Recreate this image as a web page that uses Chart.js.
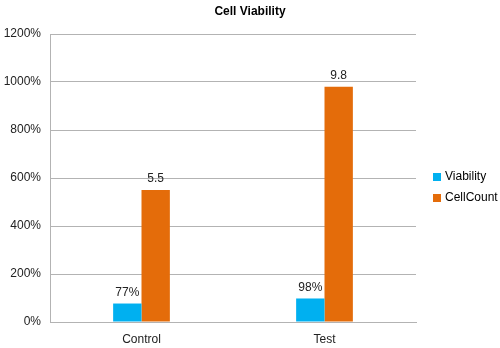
<!DOCTYPE html>
<html>
<head>
<meta charset="utf-8">
<script src="https://cdn.jsdelivr.net/npm/chart.js@4"></script>
<style>
  html, body { margin: 0; padding: 0; background: #fff; }
  #wrap { width: 500px; height: 348px; }
</style>
</head>
<body>
<div id="wrap"><canvas id="cellchart" width="500" height="348"></canvas></div>
<script>
const groups = ['Control', 'Test']
const viability = [77, 98]        // percent
const cellCount = [5.5, 9.8]      // plotted on the % axis as x100
const yTicks = [0, 200, 400, 600, 800, 1000, 1200]
const chartTitle = 'Cell Viability'

const FONT = '"Liberation Sans", Arial, sans-serif'

// numbers above each bar
const valueLabels = {
  id: 'valueLabels',
  afterDatasetsDraw(chart) {
    const ctx = chart.ctx
    ctx.save()
    ctx.font = '12px ' + FONT
    ctx.fillStyle = '#222'
    ctx.textAlign = 'center'
    ctx.textBaseline = 'bottom'
    chart.data.datasets.forEach((ds, i) => {
      chart.getDatasetMeta(i).data.forEach((bar, j) => {
        ctx.fillText(ds.labels[j], bar.x, bar.y - 5)
      })
    })
    ctx.restore()
  }
}

// title centred on the whole canvas + legend to the right of the plot
const decorations = {
  id: 'decorations',
  afterDraw(chart) {
    const ctx = chart.ctx
    const area = chart.chartArea
    ctx.save()
    ctx.font = 'bold 12px ' + FONT
    ctx.fillStyle = '#000'
    ctx.textAlign = 'center'
    ctx.textBaseline = 'middle'
    ctx.fillText(chartTitle, chart.width / 2, 12)

    const x = area.right + 17
    let y = (area.top + area.bottom) / 2 - 1
    ctx.font = '12px ' + FONT
    ctx.textAlign = 'left'
    chart.data.datasets.forEach(ds => {
      ctx.fillStyle = ds.backgroundColor
      ctx.fillRect(x, y - 4, 8, 8)
      ctx.fillStyle = '#000'
      ctx.fillText(ds.label, x + 12, y)
      y += 21
    })
    ctx.restore()
  }
}

const data = {
  labels: groups,
  datasets: [{
    label: 'Viability',
    data: viability,
    labels: viability.map(v => v + '%'),
    backgroundColor: '#00b0f0',
    borderWidth: 0
  }, {
    label: 'CellCount',
    data: cellCount.map(v => v * 100),
    labels: cellCount.map(v => String(v)),
    backgroundColor: '#e46c0a',
    borderWidth: 0
  }]
}

const config = {
  type: 'bar',
  data: data,
  options: {
    responsive: false,
    animation: false,
    layout: { padding: { top: 34, right: 84, bottom: 0, left: 2 } },
    datasets: { bar: { categoryPercentage: 0.31, barPercentage: 1 } },
    scales: {
      x: {
        grid: { display: false, drawTicks: false },
        border: { color: '#b3b3b3', width: 1 },
        afterFit: axis => { axis.height = 26 },
        ticks: { color: '#222', font: { size: 12, family: FONT }, padding: 10 }
      },
      y: {
        min: 0,
        max: 1200,
        afterBuildTicks: axis => { axis.ticks = yTicks.map(v => ({ value: v })) },
        afterFit: axis => { axis.width = 48 },
        grid: { color: '#b3b3b3', drawTicks: false },
        border: { color: '#b3b3b3', width: 1 },
        ticks: {
          color: '#222',
          font: { size: 12, family: FONT },
          padding: 9,
          callback: v => v + '%'
        }
      }
    },
    plugins: {
      title: { display: false },
      legend: { display: false },
      tooltip: { enabled: false }
    }
  },
  plugins: [valueLabels, decorations]
}

const myChart = new Chart(document.getElementById('cellchart'), config)
</script>
</body>
</html>
